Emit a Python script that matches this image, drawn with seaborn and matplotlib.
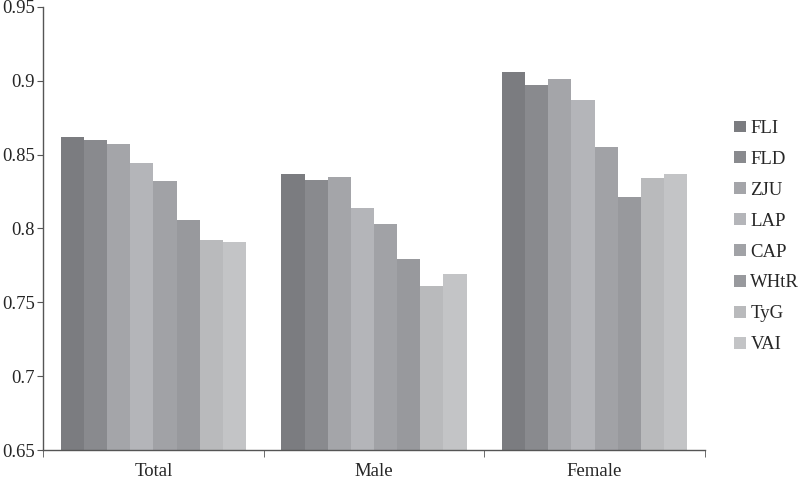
import pandas as pd
import matplotlib.pyplot as plt
import seaborn as sns

groups = ["Total", "Male", "Female"]
indices = ["FLI", "FLD", "ZJU", "LAP", "CAP", "WHtR", "TyG", "VAI"]
total_auc = [0.862, 0.860, 0.857, 0.844, 0.832, 0.806, 0.792, 0.791]
male_auc = [0.837, 0.833, 0.835, 0.814, 0.803, 0.779, 0.761, 0.769]
female_auc = [0.906, 0.897, 0.901, 0.887, 0.855, 0.821, 0.834, 0.837]
yticks = [0.65, 0.7, 0.75, 0.8, 0.85, 0.9, 0.95]
ytick_labels = ["0.65", "0.7", "0.75", "0.8", "0.85", "0.9", "0.95"]

colors = ["#7b7c80", "#898a8e", "#a4a5a9", "#b4b5b9",
          "#a1a2a6", "#98999d", "#b9babc", "#c3c4c6"]

rows = []
for g, vals in zip(groups, [total_auc, male_auc, female_auc]):
    for name, v in zip(indices, vals):
        rows.append({"group": g, "index": name, "auc": v})
df = pd.DataFrame(rows)

sns.set_style("white")
plt.rcParams['font.family'] = ['Liberation Serif', 'DejaVu Serif']

fig = plt.figure(figsize=(8, 4.79), dpi=100)
ax = fig.add_axes([0.054, 0.0605, 0.827, 0.925])

sns.barplot(data=df, x="group", y="auc", hue="index", order=groups,
            hue_order=indices, palette=colors, width=0.84,
            linewidth=0, saturation=1, ax=ax, legend=True)

ax.set_ylim(0.65, 0.95)
ax.set_xlim(-0.5, 2.5)
ax.set_yticks(yticks)
ax.set_yticklabels(ytick_labels, fontsize=13.5)
ax.tick_params(axis="x", labelsize=13.5, length=0, pad=9)
ax.set_xticks([-0.5, 0.5, 1.5, 2.5], minor=True)
ax.tick_params(axis="x", which="minor", length=5, direction="out",
               color="#555555", bottom=True)
ax.tick_params(axis="y", length=4, direction="out", color="#555555",
               left=True, pad=2)
ax.set_xlabel("")
ax.set_ylabel("")
for s in ["top", "right"]:
    ax.spines[s].set_visible(False)
for s in ["left", "bottom"]:
    ax.spines[s].set_color("#555555")
    ax.spines[s].set_linewidth(1.0)

handles, labels = ax.get_legend_handles_labels()
ax.get_legend().remove()
fig.legend(handles, labels, loc="center left", bbox_to_anchor=(0.918, 0.506),
           frameon=False, fontsize=13.5, handlelength=0.6, handleheight=0.6,
           handletextpad=0.25, labelspacing=0.74, borderaxespad=0,
           borderpad=0)

fig.savefig("out.png", dpi=100)
